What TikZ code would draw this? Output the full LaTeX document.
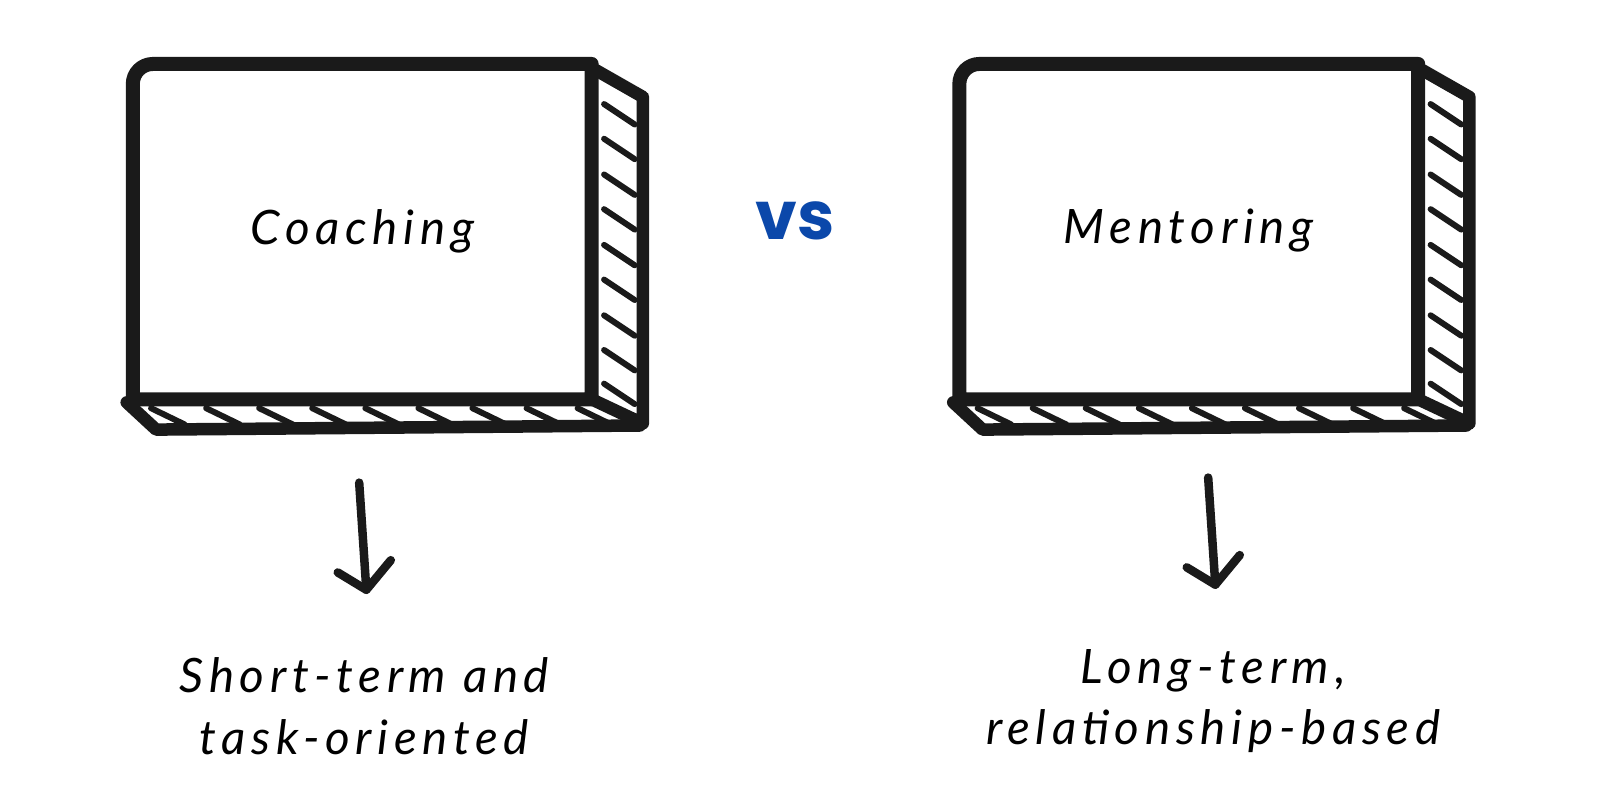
\documentclass[tikz,border=0pt]{standalone}
\usepackage{fontspec}
\setmainfont{Lato}
\newfontfamily\handfont[LetterSpace=12]{Lato}
\newfontfamily\vsfont{Poppins}
\usetikzlibrary{positioning}
\definecolor{ink}{HTML}{1A1A1A}
\definecolor{vsblue}{HTML}{0B48AA}

\begin{document}
\begin{tikzpicture}[x=0.020408cm,y=-0.020408cm,
    front/.style={shape=rectangle,minimum width=9.16cm,minimum height=6.69cm,font=\handfont\fontsize{27}{32}\selectfont\itshape},
    frontline/.style={draw=ink,line width=0.28cm,line join=round,line cap=round},
    panel/.style={draw=ink,line width=0.25cm,line join=round,line cap=round},
    hatch/.style={draw=ink,line width=0.12cm,line cap=round},
    note/.style={align=center,font=\handfont\fontsize{27}{35}\selectfont\itshape},
    arr/.style={draw=ink,line width=0.17cm,line cap=round,line join=round}]
  \useasboundingbox (0,0) rectangle (1568,788);
  \foreach \dx/\nm/\txt/\lbl/\ax/\ay in {0/coach/Coaching/{Short-term and\\task-oriented}/0/0,810/mentor/Mentoring/{Long-term,\\relationship-based}/832/-5} {
    \node[front] (\nm) at (355+\dx,227) {\raisebox{0.2cm}{\txt}};
    \draw[frontline] (\nm.south west) [rounded corners=0.4cm] -- (\nm.north west) [sharp corners] -- (\nm.north east) -- (\nm.south east) -- cycle;
    \draw[panel] ([shift={(4,6)}]\nm.north east) -- (630+\dx,95) -- (630+\dx,415) -- (\nm.south east);
    \draw[panel] ([shift={(-6,3)}]\nm.south west) -- (153+\dx,421) -- (627+\dx,417);
    \foreach \hy in {102,136,171,205,240,274,309,343,376}
      \draw[hatch] (592+\dx,\hy) -- ++(30,20);
    \foreach \hx in {148,202,254,306,358,410,463,516,566}
      \draw[hatch] (\hx+\dx,400) -- ++(33,16);
    \coordinate (\nm-top) at (352+\ax,473+\ay);
    \coordinate (\nm-tip) at (359+\ax,578+\ay);
    \node[note] (\nm-note) at (357+\ax,692+\ay) {\lbl};
    \draw[arr] (\nm-top) -- (\nm-tip);
    \draw[arr] ([shift={(-28,-17)}]\nm-tip) -- (\nm-tip) -- ++(24,-29);
  }
  \node[font=\vsfont\bfseries\fontsize{38}{38}\selectfont,text=vsblue] (vs) at (779,216) {vs};
\end{tikzpicture}
\end{document}
